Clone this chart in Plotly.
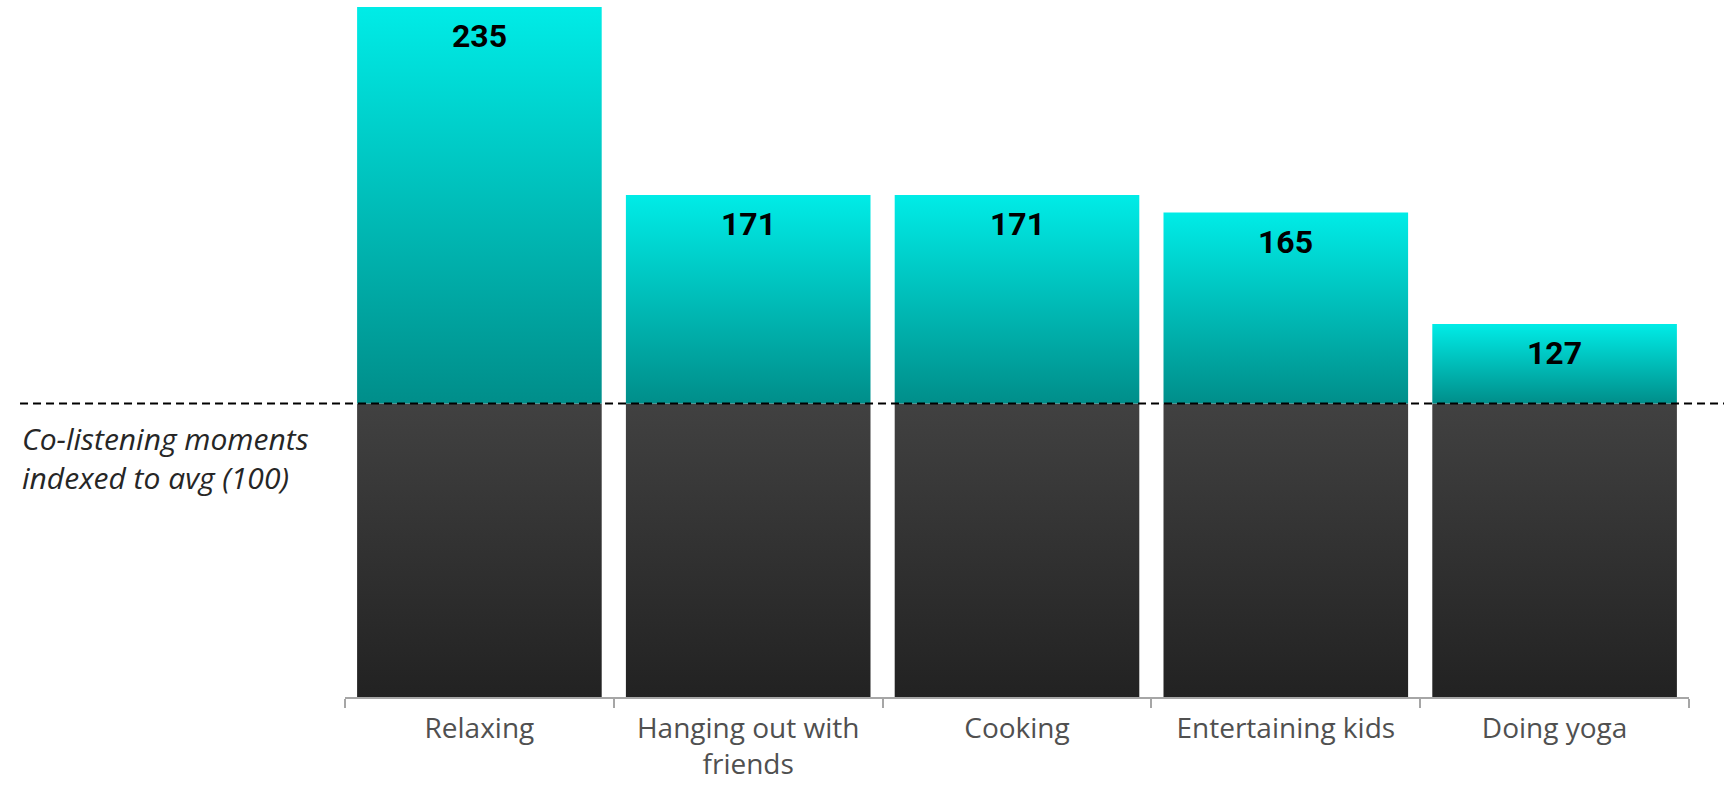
import plotly.graph_objects as go

categories = ["Relaxing", "Hanging out with<br>friends", "Cooking", "Entertaining kids", "Doing yoga"]
index_values = [235, 171, 171, 165, 127]
baseline = 100
note_text = "Co-listening moments<br>indexed to avg (100)"

bar_half = 0.455
teal_scale = [[0, "#008E8A"], [1, "#00ECE7"]]
dark_scale = [[0, "#222222"], [1, "#414141"]]

fig = go.Figure()

# dark base segments (0 -> baseline)
xs, ys = [], []
for i, _ in enumerate(categories):
    xs += [i - bar_half, i + bar_half, i + bar_half, i - bar_half, i - bar_half, None]
    ys += [0, 0, baseline, baseline, 0, None]
fig.add_trace(go.Scatter(
    x=xs, y=ys, mode="lines", fill="toself", line=dict(width=0),
    fillgradient=dict(type="vertical", colorscale=dark_scale, start=0, stop=baseline),
    hoverinfo="skip", showlegend=False, cliponaxis=False))

# teal segments (baseline -> value)
for i, v in enumerate(index_values):
    fig.add_trace(go.Scatter(
        x=[i - bar_half, i + bar_half, i + bar_half, i - bar_half, i - bar_half],
        y=[baseline, baseline, v, v, baseline],
        mode="lines", fill="toself", line=dict(width=0),
        fillgradient=dict(type="vertical", colorscale=teal_scale, start=baseline, stop=v),
        hoverinfo="skip", showlegend=False, cliponaxis=False))
    fig.add_annotation(x=i, y=v, xref="x", yref="y", text=f"<b>{v}</b>",
                       showarrow=False, yanchor="top", yshift=-8,
                       font=dict(family="Roboto", size=32, color="#000000"))

# dashed average line
fig.add_shape(type="line", xref="paper", yref="y", x0=-0.2418, x1=1.03,
              y0=baseline, y1=baseline, layer="above",
              line=dict(color="#000000", width=2, dash="8px,5px"))

fig.add_annotation(xref="paper", yref="paper", x=-0.2418, y=0.346,
                   xanchor="left", yanchor="middle", align="left",
                   text=f"<i>{note_text}</i>", showarrow=False,
                   font=dict(family="Open Sans", size=30, color="#262626"))

fig.update_layout(
    template="none",
    width=1724, height=785,
    margin=dict(l=345, r=35, t=7, b=88, autoexpand=False),
    paper_bgcolor="white", plot_bgcolor="white",
    xaxis=dict(range=[-0.5, len(categories) - 0.5], tickmode="array",
               tickvals=list(range(len(categories))), ticktext=categories,
               ticks="", showgrid=False, zeroline=False, automargin=False,
               showline=True, linecolor="#A6A6A6", linewidth=2,
               tickfont=dict(family="Open Sans", size=28, color="#505050"),
               ticklabelstandoff=5,
               minor=dict(tickmode="array",
                          tickvals=[i - 0.5 for i in range(len(categories) + 1)],
                          ticks="outside", ticklen=9, tickcolor="#A6A6A6",
                          tickwidth=2, showgrid=False)),
    yaxis=dict(range=[0, 235], visible=False, showgrid=False, zeroline=False,
               automargin=False),
    showlegend=False,
)

fig.write_html("out.html", config={"displayModeBar": False},
               post_script="document.body.style.margin='0';document.body.style.overflow='hidden';")
